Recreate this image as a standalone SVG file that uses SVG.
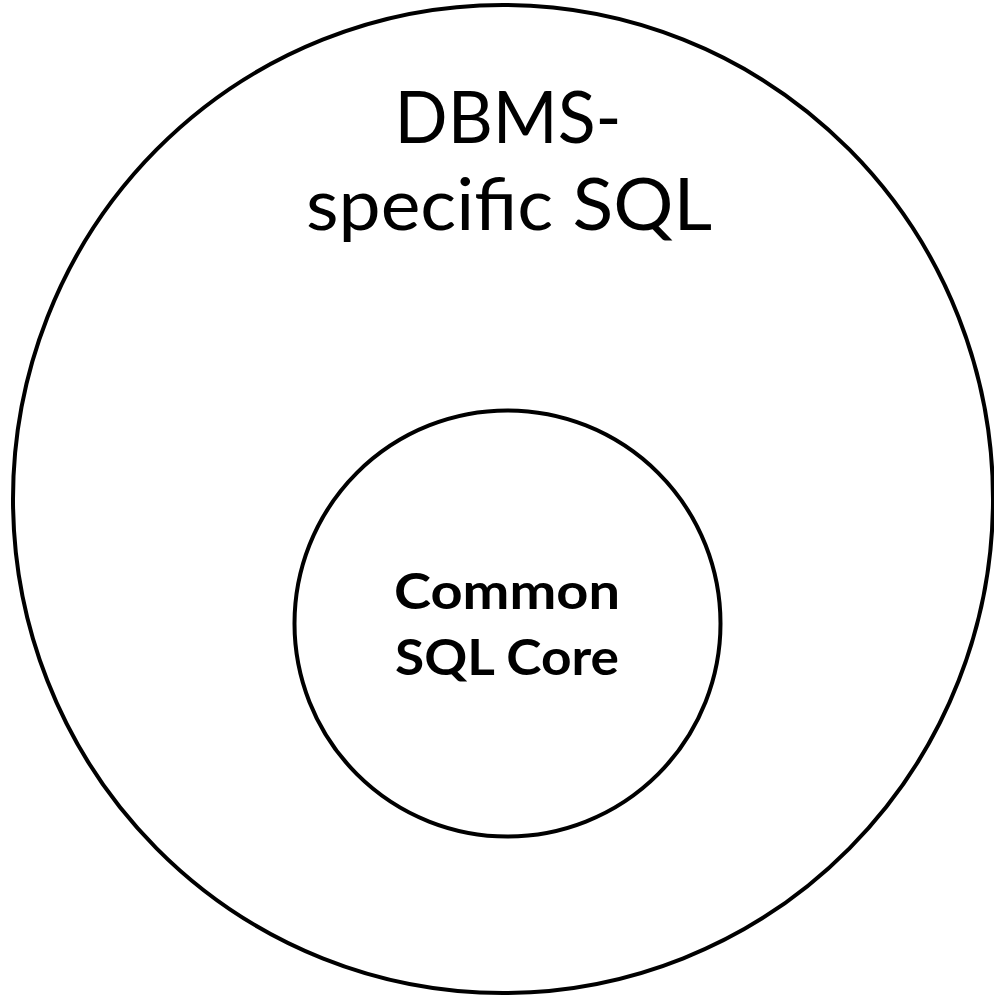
<svg xmlns="http://www.w3.org/2000/svg" width="994" height="997" viewBox="0 0 994 997">
<style>
.ring{fill:none;stroke:#000;stroke-width:4}
.outer{font-family:Lato,"Open Sans","Liberation Sans",sans-serif;font-size:72px;fill:#000;text-anchor:middle}
.inner{font-family:Lato,"Open Sans","Liberation Sans",sans-serif;font-size:50px;font-weight:bold;fill:#000;text-anchor:middle}
</style>
<rect width="994" height="997" fill="#fff"/>
<g id="dbms-specific">
<ellipse class="ring" cx="503" cy="499" rx="490" ry="494"/>
<text class="outer" x="508" y="143" textLength="227" lengthAdjust="spacingAndGlyphs">DBMS-</text>
<text class="outer" x="509" y="230" textLength="406" lengthAdjust="spacingAndGlyphs">specific SQL</text>
</g>
<g id="common-core">
<circle class="ring" cx="507.5" cy="623.5" r="213"/>
<text class="inner" x="507" y="609" textLength="226" lengthAdjust="spacingAndGlyphs">Common</text>
<text class="inner" x="507" y="675" textLength="224" lengthAdjust="spacingAndGlyphs">SQL Core</text>
</g>
</svg>
